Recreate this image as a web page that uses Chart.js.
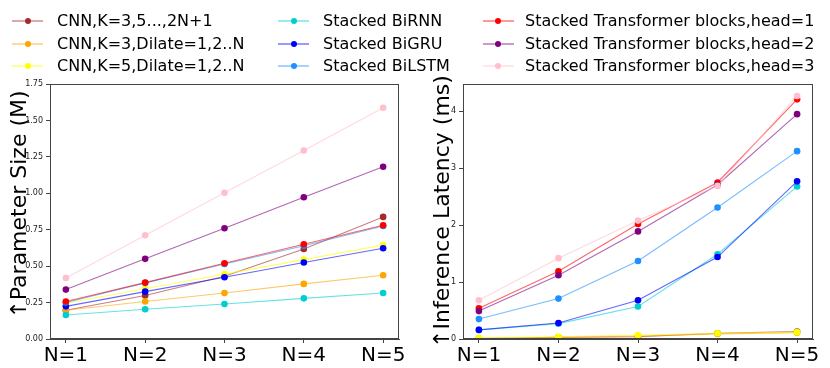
<!DOCTYPE html>
<html>
<head>
<meta charset="utf-8">
<script src="https://cdn.jsdelivr.net/npm/chart.js@4/dist/chart.umd.min.js"></script>
<style>
html,body{margin:0;padding:0;background:#fff;}
#wrap{position:relative;width:830px;height:368px;overflow:hidden;font-family:"DejaVu Sans",sans-serif;}
canvas{position:absolute;top:0;}
.lg{position:absolute;height:20px;}
.lg .ln{position:absolute;top:9px;height:2px;width:31px;}
.lg .dt{position:absolute;top:7px;width:6px;height:6px;border-radius:50%;}
.lg .tx{position:absolute;top:0;font-size:16px;line-height:20px;white-space:nowrap;color:#000;}
</style>
</head>
<body>
<div id="wrap">
<canvas id="c1" width="415" height="368" style="left:0"></canvas>
<canvas id="c2" width="415" height="368" style="left:415px"></canvas>
</div>
<script>
const categories = ['N=1','N=2','N=3','N=4','N=5'];
const seriesNames = [
  'CNN,K=3,5...,2N+1',
  'CNN,K=3,Dilate=1,2..N',
  'CNN,K=5,Dilate=1,2..N',
  'Stacked BiRNN',
  'Stacked BiGRU',
  'Stacked BiLSTM',
  'Stacked Transformer blocks,head=1',
  'Stacked Transformer blocks,head=2',
  'Stacked Transformer blocks,head=3'
];
const seriesColors = ['165,42,42','255,165,0','255,255,0','0,206,209','0,0,255','30,144,255','255,0,0','128,0,128','255,192,203'];

// Parameter size (M)
const paramCNN1 = [0.197, 0.298, 0.43, 0.618, 0.838];
const paramCNN2 = [0.197, 0.257, 0.316, 0.378, 0.437];
const paramCNN3 = [0.245, 0.345, 0.445, 0.545, 0.644];
const paramRNN  = [0.165, 0.204, 0.240, 0.279, 0.316];
const paramGRU  = [0.224, 0.325, 0.424, 0.525, 0.623];
const paramLSTM = [0.250, 0.385, 0.515, 0.640, 0.775];
const paramT1   = [0.257, 0.387, 0.520, 0.650, 0.781];
const paramT2   = [0.339, 0.550, 0.760, 0.973, 1.182];
const paramT3   = [0.419, 0.712, 1.003, 1.294, 1.587];

// Inference latency (ms)
const latCNN1 = [0.01, 0.03, 0.04, 0.10, 0.13];
const latCNN2 = [0.01, 0.03, 0.05, 0.09, 0.11];
const latCNN3 = [0.02, 0.04, 0.07, 0.10, 0.12];
const latRNN  = [0.16, 0.27, 0.57, 1.49, 2.68];
const latGRU  = [0.16, 0.28, 0.68, 1.44, 2.77];
const latLSTM = [0.35, 0.71, 1.37, 2.31, 3.30];
const latT1   = [0.54, 1.19, 2.02, 2.75, 4.21];
const latT2   = [0.49, 1.12, 1.89, 2.71, 3.95];
const latT3   = [0.68, 1.42, 2.08, 2.69, 4.27];

const paramTicks = [0, 0.25, 0.5, 0.75, 1.0, 1.25, 1.5, 1.75];
const latTicks = [0, 1, 2, 3, 4];

const paramSeries = [paramCNN1,paramCNN2,paramCNN3,paramRNN,paramGRU,paramLSTM,paramT1,paramT2,paramT3];
const latSeries = [latCNN1,latCNN2,latCNN3,latRNN,latGRU,latLSTM,latT1,latT2,latT3];

const FONT = '"DejaVu Sans", sans-serif';
const AXC = '#444';

function makeDatasets(series){
  return series.map((vals,i)=>({
    label: seriesNames[i],
    data: vals.map((v,j)=>({x:j+1,y:v})),
    borderColor: 'rgba('+seriesColors[i]+',0.6)',
    backgroundColor: 'rgb('+seriesColors[i]+')',
    pointBackgroundColor: 'rgb('+seriesColors[i]+')',
    pointBorderColor: 'rgb('+seriesColors[i]+')',
    borderWidth: 1.1,
    pointRadius: 3.3,
    pointBorderWidth: 0,
    pointHoverRadius: 3.3,
    tension: 0,
    order: series.length - i
  }));
}

const boxPlugin = {
  id:'box',
  afterDraw(chart){
    const a = chart.chartArea, ctx = chart.ctx;
    ctx.save();
    ctx.strokeStyle = AXC; ctx.lineWidth = 1;
    ctx.strokeRect(Math.round(a.left)+0.5, Math.round(a.top)+0.5, Math.round(a.right-a.left)-1, Math.round(a.bottom-a.top)-1);
    ctx.restore();
  }
};

function makeChart(id, series, yMax, yTicks, title, yWidth, padRight, titlePad, fmt){
  return new Chart(document.getElementById(id), {
    type:'line',
    data:{datasets: makeDatasets(series)},
    options:{
      responsive:false, animation:false, devicePixelRatio:1,
      layout:{padding:{top:84,right:padRight,left:0,bottom:0}},
      plugins:{legend:{display:false},tooltip:{enabled:false}},
      scales:{
        x:{
          type:'linear', min:0.8, max:5.2,
          afterBuildTicks(s){ s.ticks = categories.map((c,i)=>({value:i+1})); },
          afterFit(s){ s.height = 29; s.paddingLeft = 0; s.paddingRight = 0; },
          ticks:{ callback:(v)=>categories[Math.round(v)-1], font:{family:FONT,size:20}, color:'#000', padding:1, maxRotation:0, autoSkip:false },
          grid:{ drawOnChartArea:false, drawTicks:true, tickLength:4, color:AXC },
          border:{ display:true, color:AXC, width:1 }
        },
        y:{
          type:'linear', min:0, max:yMax,
          afterBuildTicks(s){ s.ticks = yTicks.map(v=>({value:v})); },
          afterFit(s){ s.width = yWidth; s.paddingTop = 0; s.paddingBottom = 0; },
          ticks:{ callback:fmt, font:{family:FONT,size:8}, color:'#222', padding:3, autoSkip:false },
          grid:{ drawOnChartArea:false, drawTicks:true, tickLength:4, color:AXC },
          border:{ display:true, color:AXC, width:1 },
          title:{ display:true, text:title, font:{family:FONT,size:22}, color:'#000', padding:{top:titlePad,bottom:0} }
        }
      }
    },
    plugins:[boxPlugin]
  });
}

makeChart('c1', paramSeries, 1.75, paramTicks, '\u00a0\u00a0\u2191Parameter Size (M)', 50, 16, 7, v=>Number(v).toFixed(2));
makeChart('c2', latSeries, 4.48, latTicks, '\u2191Inference Latency (ms)', 48, 17, 15, v=>String(v));

// Legend (3 columns, column-major)
const wrap = document.getElementById('wrap');
const colX = [{ln:12,dt:25,tx:57},{ln:278,dt:291,tx:323},{ln:483,dt:495,tx:525}];
const rowY = [11, 33.5, 56];
seriesNames.forEach((name,i)=>{
  const col = Math.floor(i/3), row = i%3;
  const d = document.createElement('div');
  d.className='lg'; d.style.left='0px'; d.style.top=rowY[row]+'px';
  const c = colX[col];
  d.innerHTML = '<div class="ln" style="left:'+c.ln+'px;background:rgba('+seriesColors[i]+',0.4)"></div>'+
    '<div class="dt" style="left:'+c.dt+'px;background:rgb('+seriesColors[i]+')"></div>'+
    '<div class="tx" style="left:'+c.tx+'px"></div>';
  d.querySelector('.tx').textContent = name;
  wrap.appendChild(d);
});
</script>
</body>
</html>
